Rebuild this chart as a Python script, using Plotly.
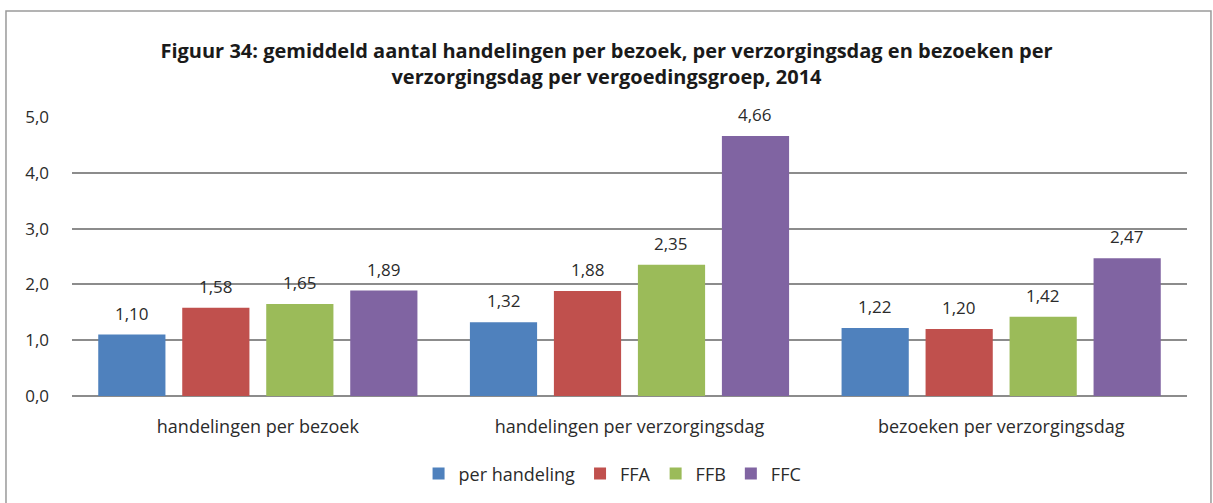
import plotly.graph_objects as go

categories = ["handelingen per bezoek", "handelingen per verzorgingsdag", "bezoeken per verzorgingsdag"]
series_names = ["per handeling", "FFA", "FFB", "FFC"]
per_handeling = [1.10, 1.32, 1.22]
ffa = [1.58, 1.88, 1.20]
ffb = [1.65, 2.35, 1.42]
ffc = [1.89, 4.66, 2.47]
colors = ["#4F81BD", "#C0504D", "#9BBB59", "#8064A2"]
y_ticks = [0, 1, 2, 3, 4, 5]

font_family = "Open Sans, Noto Sans, sans-serif"
text_color = "#2b2b2b"

W, H = 1213, 503
margin = dict(l=72, r=26, t=117, b=107)
bargap, bargroupgap = 0.096, 0.2

all_series = [per_handeling, ffa, ffb, ffc]
n_series = len(all_series)

fig = go.Figure()
for name, values, color in zip(series_names, all_series, colors):
    fig.add_trace(go.Bar(
        x=categories, y=values, name=name,
        marker=dict(color=color, line=dict(width=0)),
        hovertemplate="%{x}<br>" + name + ": %{y:.2f}<extra></extra>",
    ))

# value labels above each bar, placed at the bar's own category/value
plot_w = W - margin["l"] - margin["r"]
slot_px = plot_w / len(categories) * (1 - bargap) / n_series
annotations = []
for i, values in enumerate(all_series):
    for cat, v in zip(categories, values):
        annotations.append(dict(
            x=cat, y=v, xref="x", yref="y", text=f"{v:.2f}".replace(".", ","),
            showarrow=False, yanchor="bottom", xanchor="center",
            xshift=(i - (n_series - 1) / 2) * slot_px, yshift=8,
            font=dict(size=17, color=text_color, family=font_family),
        ))

fig.update_layout(
    width=W, height=H,
    margin=margin,
    paper_bgcolor="white", plot_bgcolor="white",
    separators=",.",
    barmode="group", bargap=bargap, bargroupgap=bargroupgap,
    font=dict(family=font_family, color=text_color, size=17),
    title=dict(
        text="<b>Figuur 34: gemiddeld aantal handelingen per bezoek, per verzorgingsdag en bezoeken per<br>verzorgingsdag per vergoedingsgroep, 2014</b>",
        x=0.5, xanchor="center", xref="container", y=0.885, yanchor="middle",
        font=dict(size=20, color="#1a1a1a", family=font_family),
    ),
    xaxis=dict(showgrid=False, showline=False, ticks="", tickfont=dict(size=18),
               ticklabelstandoff=18),
    yaxis=dict(
        range=[0, 5], tickvals=y_ticks, tickformat=".1f",
        showgrid=True, gridcolor="#8c8c8c", gridwidth=1.5,
        zeroline=True, zerolinecolor="#8c8c8c", zerolinewidth=1.5,
        ticks="", tickfont=dict(size=17), ticklabelstandoff=22,
    ),
    legend=dict(orientation="h", x=0.505, xanchor="center", xref="container",
                y=0.058, yref="container", yanchor="middle",
                font=dict(size=18), itemwidth=30, traceorder="normal"),
    annotations=annotations,
    shapes=[dict(type="rect", xref="paper", yref="paper",
                 x0=-0.0592, x1=1.0215, y0=-0.45, y1=1.38,
                 line=dict(color="#9a9a9a", width=1.5), fillcolor="rgba(0,0,0,0)",
                 layer="below")],
)

fig.write_html("out.html")
